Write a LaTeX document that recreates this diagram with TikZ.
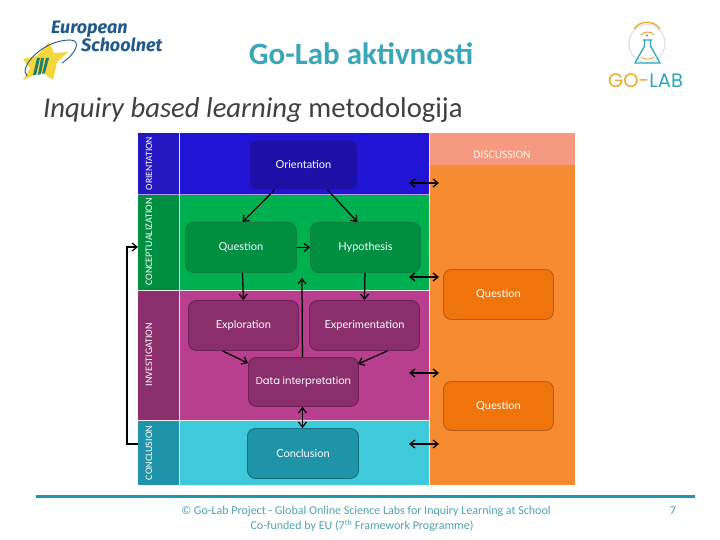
\documentclass[tikz,border=0pt]{standalone}
\usepackage{fontspec}
\setmainfont{Carlito}
\newfontfamily\logofont{Fira Sans}
\newfontfamily\golabfont{Poppins}
\newfontfamily\boxfont{Lato}
\usetikzlibrary{calc,arrows.meta,shapes.geometric}
\definecolor{bandblue}{HTML}{2214D4}\definecolor{sideblue}{HTML}{2416C0}\definecolor{boxblue}{HTML}{1C10A6}\definecolor{edgeblue}{HTML}{2018B0}
\definecolor{bandgreen}{HTML}{00AF50}\definecolor{sidegreen}{HTML}{008F41}\definecolor{edgegreen}{HTML}{0F8040}
\definecolor{bandpurple}{HTML}{B83F8E}\definecolor{sidepurple}{HTML}{8A2F6C}\definecolor{edgepurple}{HTML}{6E1E58}
\definecolor{bandteal}{HTML}{3FCADB}\definecolor{sideteal}{HTML}{1F93A8}\definecolor{edgeteal}{HTML}{14707F}
\definecolor{bandorange}{HTML}{F78B32}\definecolor{headorange}{HTML}{F59A80}\definecolor{boxorange}{HTML}{F0740C}\definecolor{edgeorange}{HTML}{B85A14}
\definecolor{titleteal}{HTML}{3AA6B9}\definecolor{ink}{HTML}{404040}\definecolor{rulecol}{HTML}{2394B0}\definecolor{footcol}{HTML}{4FA3B0}
\definecolor{esblue}{HTML}{1F5A8C}\definecolor{esyellow}{HTML}{F5D63C}\definecolor{esteal}{HTML}{1E7F6E}
\definecolor{glorange}{HTML}{EFA82E}\definecolor{glteal}{HTML}{2AA8BC}
\tikzset{
  x=1pt,y=-1pt,
  band/.style={fill=#1,draw=none,inner sep=0pt,outer sep=0pt,anchor=north west},
  sidelabel/.style={rotate=90,text=white,font=\fontsize{10}{11}\selectfont,inner sep=0pt},
  stage/.style n args={2}{rounded corners=8pt,fill=#1,draw=#2,line width=0.9pt,inner sep=0pt,anchor=north west,text=white,font=\boxfont\fontsize{11}{12}\selectfont,align=center},
  link/.style={draw=black,line width=1.25pt,-{Straight Barb[length=5pt,width=8pt]}},
  twoway/.style={draw=black,line width=1.25pt,{Straight Barb[length=5pt,width=8pt]}-{Straight Barb[length=5pt,width=8pt]}},
  divider/.style={draw=white!85!gray,line width=0.7pt}
}
\newcommand{\stagebox}[8]{\node[stage={#6}{#7},minimum width=#4pt,minimum height=#5pt] (#1) at (#2,#3) {#8};}
\begin{document}
\begin{tikzpicture}
\useasboundingbox (0,0) rectangle (720,540);
\fill[white] (0,0) rectangle (720,540);
% bands
\fill[bandblue] (179,133) rectangle (429,194);
\fill[bandgreen] (179,194) rectangle (429,290);
\fill[bandpurple] (179,290) rectangle (429,420);
\fill[bandteal] (179,420) rectangle (429,485);
\fill[bandorange] (429,133) rectangle (575,485);
\fill[headorange] (429,133) rectangle (575,165);
% sidebars
\node[band=sideblue,minimum width=41pt,minimum height=61pt] (sideO) at (138,133) {};
\node[band=sidegreen,minimum width=41pt,minimum height=96pt] (sideC) at (138,194) {};
\node[band=sidepurple,minimum width=41pt,minimum height=130pt] (sideI) at (138,290) {};
\node[band=sideteal,minimum width=41pt,minimum height=65pt] (sideK) at (138,420) {};
\node[sidelabel,font=\fontsize{9.6}{11}\selectfont] (lO) at (149,163.5) {ORIENTATION};
\node[sidelabel] (lC) at (149,242) {CONCEPTUALIZATION};
\node[sidelabel] (lI) at (149,354.5) {INVESTIGATION};
\node[sidelabel] (lK) at (149,453) {CONCLUSION};
\node[text=white!92!orange,font=\fontsize{11.5}{13}\selectfont,inner sep=0pt] (disc) at (502,154.5) {DISCUSSION};
% dividers
\draw[divider] (179,133) -- (179,485);
\draw[divider] (429,133) -- (429,485);
\draw[divider,draw=white!60!bandblue] (138,194) -- (429,194);
\draw[divider] (138,290) -- (429,290);
\draw[divider] (138,420) -- (429,420);
% stages
\stagebox{orient}{249}{140}{108}{49}{boxblue}{edgeblue}{Orientation}
\stagebox{quest}{185}{222}{111}{50}{sidegreen}{edgegreen}{Question}
\stagebox{hypo}{310}{222}{110}{50}{sidegreen}{edgegreen}{Hypothesis}
\stagebox{explor}{188}{300}{110}{50}{sidepurple}{edgepurple}{Exploration}
\stagebox{exper}{309}{300}{110}{50}{sidepurple}{edgepurple}{Experimentation}
\stagebox{data}{248}{357}{110}{49}{sidepurple}{edgepurple}{\golabfont\fontsize{10}{11}\selectfont Data interpretation}
\stagebox{concl}{247}{428}{111}{50}{sideteal}{edgeteal}{Conclusion}
\stagebox{q1}{443}{269}{110}{50}{boxorange}{edgeorange}{Question}
\stagebox{q2}{443}{381}{110}{49}{boxorange}{edgeorange}{Question}
% free ends
\coordinate (upEnd) at (302,278);
\coordinate (a1l) at (409,183); \coordinate (a1r) at (439,183);
\coordinate (a2l) at (409,277); \coordinate (a2r) at (439,277);
\coordinate (a3l) at (409,373); \coordinate (a3r) at (439,373);
\coordinate (a4l) at (409,444); \coordinate (a4r) at (439,444);
% connectors
\draw[link] ($(orient.south)+(-29,0)$) -- ($(quest.north)+(1.5,0)$);
\draw[link] ($(orient.south)+(24,0)$) -- ($(hypo.north)+(-8,0)$);
\draw[link] (quest.east) -- (hypo.west);
\draw[link] ($(quest.south)+(1.5,0)$) -- ($(explor.north)+(0,0)$);
\draw[link] ($(hypo.south)+(-0.5,0)$) -- ($(exper.north)+(0,0)$);
\draw[link] ($(data.north)+(-1,0)$) -- (upEnd);
\draw[link] ($(explor.south)+(-21,0)$) -- ($(data.north west)+(0,6)$);
\draw[link] ($(exper.south)+(23,0)$) -- ($(data.north east)+(-1,7)$);
\draw[twoway] ($(data.south)+(-1,0)$) -- ($(concl.north)+(-0.5,0)$);
\draw[twoway] (a1l) -- (a1r);
\draw[twoway] (a2l) -- (a2r);
\draw[twoway] (a3l) -- (a3r);
\draw[twoway] (a4l) -- (a4r);
\draw[link] (sideK.west |- 0,444) -- (127,444) -- (127,247) -- (sideC.west |- 0,247);
% title
\node[text=titleteal,font=\bfseries\fontsize{31}{34}\selectfont,inner sep=0pt] (title) at (361,54) {Go-Lab aktivnosti};
\node[text=ink,font=\fontsize{28.7}{32}\selectfont,anchor=base west,inner sep=0pt] (sub) at (43,118) {\textit{Inquiry based learning} metodologija};
% European Schoolnet logo
\node[text=esblue,font=\logofont\bfseries\itshape\fontsize{18}{20}\selectfont,anchor=base west,inner sep=0pt] (es1) at (51,33.5) {European};
\node[text=esblue,font=\logofont\bfseries\itshape\fontsize{18}{20}\selectfont,anchor=base west,inner sep=0pt] (es2) at (81,51.5) {Schoolnet};
\fill[esyellow] (49,42) -- (54,53) -- (68,52) -- (57,62) -- (53,80) -- (42,72) -- (23,80) -- (30,68) -- (23,59) -- (37,56) -- cycle;
\fill[esteal] (37,58) -- (40,58) -- (36,75) -- (33,75) -- cycle;
\fill[esteal] (41,58) -- (44,58) -- (41,74) -- (38,75) -- cycle;
\fill[esteal] (46,58) -- (49,58) -- (45,73) -- (42,74) -- cycle;
\draw[esblue,line width=0.9pt] (27,76) .. controls (18,68) and (42,40) .. (70,40) .. controls (82,40) and (76,54) .. (62,63);
% Go-Lab logo
\draw[gray!22,line width=1.3pt] (647,43.5) ellipse [x radius=18pt,y radius=19pt];
\draw[glorange,line width=1.3pt] (634,29) .. controls (640,20) and (654,20) .. (660,29);
\draw[glorange,line width=0.9pt] (641,35) .. controls (644,31) and (651,31) .. (654,35);
\fill[glteal] (647,35.5) circle (1.2pt);
\draw[glteal,line width=1.3pt,line join=round] (643,40) -- (652,40) (644.5,40) -- (644.5,46) -- (635,63) -- (660,63) -- (650.5,46) -- (650.5,40);
\draw[glorange,line width=0.9pt] (641,57) .. controls (645,60) and (650,60) .. (654,57);
\node[font=\golabfont\fontsize{19.5}{21}\selectfont,inner sep=0pt,anchor=base west] (gl) at (608,87.5) {\textcolor{glorange}{GO-}\textcolor{glteal}{LAB}};
% footer
\draw[rulecol,line width=3pt] (36,496) -- (695,496);
\node[text=footcol,font=\fontsize{12}{13}\selectfont,inner sep=0pt] (f1) at (366,511) {© Go-Lab Project - Global Online Science Labs for Inquiry Learning at School};
\node[text=footcol,font=\fontsize{12}{13}\selectfont,inner sep=0pt] (f2) at (362,526) {Co-funded by EU (7\textsuperscript{th} Framework Programme)};
\node[text=footcol,font=\fontsize{12}{13}\selectfont,inner sep=0pt] (pg) at (673,511) {7};
\end{tikzpicture}
\end{document}
